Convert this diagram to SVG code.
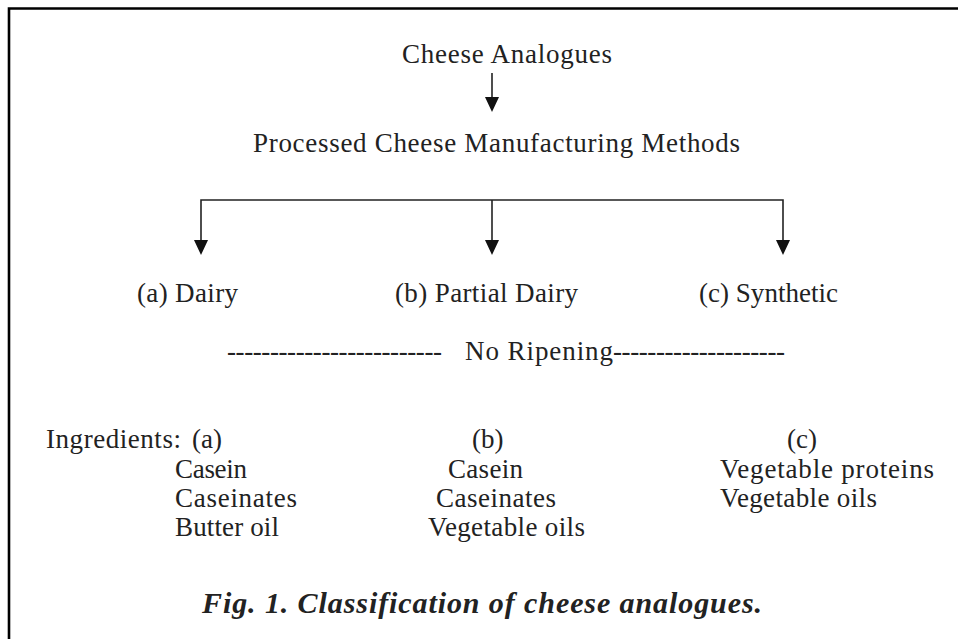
<svg xmlns="http://www.w3.org/2000/svg" width="958" height="639" viewBox="0 0 958 639">
<style>
.t{font-family:"Liberation Serif","DejaVu Serif",serif;font-size:27px;fill:#222}
.cap{font-family:"Liberation Serif","DejaVu Serif",serif;font-size:30px;font-weight:bold;font-style:italic;fill:#222}
.ln{stroke:#222;stroke-width:1.6;fill:none}
</style>
<rect width="958" height="639" fill="#fff"/>
<path d="M9,639 L9,8.5 L958,8.5" stroke="#000" stroke-width="2.6" fill="none"/>
<g id="connectors">
<line class="ln" x1="492" y1="73" x2="492" y2="97"/>
<path d="M485,97 L499,97 L492,112 Z" fill="#111"/>
<path class="ln" d="M201,240 L201,200 L783,200 L783,240"/>
<line class="ln" x1="492" y1="200" x2="492" y2="240"/>
<path d="M194,240 L208,240 L201,255 Z" fill="#111"/>
<path d="M485,240 L499,240 L492,255 Z" fill="#111"/>
<path d="M776,240 L790,240 L783,255 Z" fill="#111"/>
</g>
<g id="root"><text class="t" x="402" y="63" textLength="210">Cheese Analogues</text></g>
<g id="methods"><text class="t" x="253" y="152" textLength="487">Processed Cheese Manufacturing Methods</text></g>
<g id="dairy"><text class="t" x="137" y="302" textLength="101">(a) Dairy</text></g>
<g id="partial"><text class="t" x="395" y="302" textLength="183">(b) Partial Dairy</text></g>
<g id="synthetic"><text class="t" x="699" y="302" textLength="139">(c) Synthetic</text></g>
<g id="ripening">
<text class="t" x="227" y="360" textLength="215">-------------------------</text>
<text class="t" x="465" y="360" textLength="148">No Ripening</text>
<text class="t" x="613" y="360" textLength="172">--------------------</text>
</g>
<g id="ingredients-a">
<text class="t" x="46" y="448" textLength="135">Ingredients:</text>
<text class="t" x="192" y="448">(a)</text>
<text class="t" x="175" y="478" textLength="72">Casein</text>
<text class="t" x="175" y="507" textLength="122">Caseinates</text>
<text class="t" x="175" y="536" textLength="104">Butter oil</text>
</g>
<g id="ingredients-b">
<text class="t" x="472" y="448">(b)</text>
<text class="t" x="448" y="478" textLength="75">Casein</text>
<text class="t" x="436" y="507" textLength="120">Caseinates</text>
<text class="t" x="428" y="536" textLength="157">Vegetable oils</text>
</g>
<g id="ingredients-c">
<text class="t" x="787" y="448">(c)</text>
<text class="t" x="720" y="478" textLength="214">Vegetable proteins</text>
<text class="t" x="720" y="507" textLength="157">Vegetable oils</text>
</g>
<g id="caption"><text class="cap" x="202" y="613" textLength="560">Fig. 1. Classification of cheese analogues.</text></g>
</svg>
